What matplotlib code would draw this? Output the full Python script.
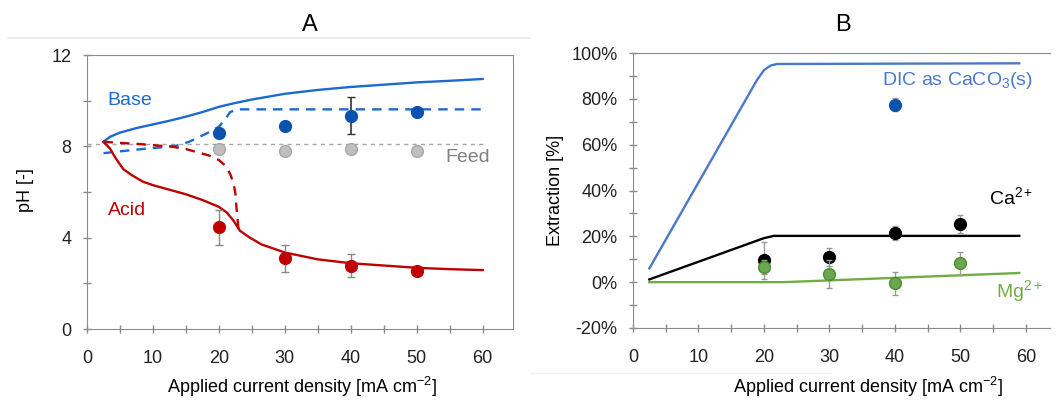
import matplotlib
matplotlib.use("Agg")
import matplotlib.pyplot as plt
from matplotlib.lines import Line2D
from matplotlib.ticker import MultipleLocator, FuncFormatter

plt.rcParams.update({
    "font.family": ["Liberation Sans", "DejaVu Sans"],
    "font.size": 13,
    "mathtext.fontset": "custom",
    "mathtext.rm": "Liberation Sans",
    "mathtext.it": "Liberation Sans",
    "mathtext.bf": "Liberation Sans",
    "axes.edgecolor": "#8c8c8c",
    "xtick.color": "#8c8c8c",
    "ytick.color": "#8c8c8c",
    "xtick.labelcolor": "#222222",
    "ytick.labelcolor": "#222222",
})

# ---- panel A: pH vs applied current density ---------------------------------
BASE_X = [2.5, 3.5, 5, 7.5, 10, 12.5, 15, 17.5, 20, 22.5, 25, 30, 35, 40, 45, 50, 55, 60]
BASE_Y = [8.2, 8.42, 8.6, 8.8, 8.96, 9.12, 9.3, 9.5, 9.73, 9.9, 10.05, 10.3, 10.47, 10.6, 10.7, 10.8, 10.87, 10.95]
BASE_D_X = [2.5, 5, 8, 11, 13.6, 15.5, 17.1, 18.6, 20, 21, 21.7, 22.8, 60]
BASE_D_Y = [7.7, 7.78, 7.87, 7.95, 8.03, 8.2, 8.42, 8.63, 8.86, 9.2, 9.5, 9.62, 9.62]
ACID_X = [2.5, 3.5, 4.3, 5.5, 7, 8.5, 10, 12.5, 15, 17.5, 20, 21.2, 22.2, 23.2, 24.7, 26.5, 30, 35, 40, 45, 50, 55, 60]
ACID_Y = [8.2, 7.9, 7.5, 7.0, 6.7, 6.45, 6.3, 6.1, 5.9, 5.65, 5.35, 5.1, 4.75, 4.3, 4.0, 3.7, 3.35, 3.05, 2.88, 2.78, 2.68, 2.62, 2.58]
ACID_D_X = [2.5, 5, 8, 10, 13, 15, 17, 18.5, 20, 21, 21.7, 22.2, 22.5, 22.7, 23.0]
ACID_D_Y = [8.2, 8.15, 8.1, 8.05, 7.98, 7.88, 7.72, 7.6, 7.4, 7.15, 6.8, 6.4, 5.95, 5.2, 4.3]
FEED_LEVEL = 8.1

PTS_X = [20, 30, 40, 50]
BASE_PTS = [8.6, 8.9, 9.35, 9.5]
BASE_ERR = [0.0, 0.0, 0.8, 0.0]
ACID_PTS = [4.45, 3.1, 2.78, 2.56]
ACID_ERR = [0.75, 0.6, 0.5, 0.0]
FEED_PTS = [7.9, 7.8, 7.9, 7.8]

# ---- panel B: extraction ----------------------------------------------------
DIC_X = [2.5, 19, 20, 21, 22, 59]
DIC_Y = [6, 88.5, 92.5, 94.5, 95.2, 95.5]
CA_X = [2.5, 20, 21.5, 59]
CA_Y = [1.2, 19.2, 20.2, 20.2]
MG_X = [2.5, 23, 59]
MG_Y = [0, 0, 4]

DIC_PT_X = [40]
DIC_PT = [77.5]
DIC_PT_ERR = [3]
CA_PTS = [9.5, 11, 21.5, 25.5]
CA_ERR = [8, 4, 3, 4]
MG_PTS = [6.5, 3.5, -0.5, 8.3]
MG_ERR = [3, 6, 5, 5]

BLUE_L = "#1a6ad0"
BLUE_P = "#0b52ac"
RED = "#c00000"
GREY_P = "#bfbfbf"
B_BLUE = "#4a78cc"
GREEN_L = "#70ad47"
GREEN_P = "#6aa84f"
MS = 8.5
LW = 1.7

W, H = 1061, 401
fig = plt.figure(figsize=(W / 100, H / 100), dpi=100)

def px(x0, y0, x1, y1):
    # pixel box -> figure fraction rect
    return [x0 / W, 1 - y1 / H, (x1 - x0) / W, (y1 - y0) / H]

# ============================ A ==============================================
axA = fig.add_axes(px(87, 55, 513, 329))
axA.plot([0, 60], [FEED_LEVEL, FEED_LEVEL], ls=(0, (3, 3)), color="#a6a6a6", lw=1)
axA.plot(BASE_X, BASE_Y, color=BLUE_L, lw=LW)
axA.plot(BASE_D_X, BASE_D_Y, color=BLUE_L, lw=LW, ls=(0, (4, 3)))
axA.plot(ACID_X, ACID_Y, color=RED, lw=LW)
axA.plot(ACID_D_X, ACID_D_Y, color=RED, lw=LW, ls=(0, (4, 3)))
axA.errorbar(PTS_X, BASE_PTS, yerr=BASE_ERR, fmt="o", ms=MS, color=BLUE_P,
             ecolor="#333333", elinewidth=1.2, capsize=3, zorder=5)
axA.errorbar(PTS_X, ACID_PTS, yerr=ACID_ERR, fmt="o", ms=MS, color=RED,
             ecolor="#888888", elinewidth=1, capsize=3, zorder=5)
axA.plot(PTS_X, FEED_PTS, "o", ms=MS, color=GREY_P, mec="#a8a8a8", zorder=5)
axA.text(6.5, 10.0, "Base", color=BLUE_L, fontsize=14, ha="center", va="center")
axA.text(6.0, 5.2, "Acid", color=RED, fontsize=14, ha="center", va="center")
axA.text(57.7, 7.5, "Feed", color="#7f7f7f", fontsize=14, ha="center", va="center")

axA.set_xticks(range(0, 61, 10))
axA.xaxis.set_minor_locator(MultipleLocator(5))
axA.set_yticks([0, 4, 8, 12])
axA.yaxis.set_minor_locator(MultipleLocator(2))
axA.tick_params(which="both", direction="inout", length=6, width=1, pad=8)
axA.tick_params(axis="x", which="major", pad=12)
axA.set_xlim(0, 64.6); axA.set_ylim(0, 12)

# ============================ B ==============================================
axB = fig.add_axes(px(633, 53, 1050, 328))
axB.plot(DIC_X, DIC_Y, color=B_BLUE, lw=LW)
axB.plot(CA_X, CA_Y, color="black", lw=LW)
axB.plot(MG_X, MG_Y, color=GREEN_L, lw=LW)
axB.errorbar(DIC_PT_X, DIC_PT, yerr=DIC_PT_ERR, fmt="o", ms=MS, color=BLUE_P,
             ecolor="#999999", elinewidth=1, capsize=2, zorder=5)
axB.errorbar(PTS_X, CA_PTS, yerr=CA_ERR, fmt="o", ms=MS, color="black",
             ecolor="#999999", elinewidth=1, capsize=2, zorder=5)
axB.errorbar(PTS_X, MG_PTS, yerr=MG_ERR, fmt="o", ms=MS, color=GREEN_P, mec="#4f8a33",
             ecolor="#999999", elinewidth=1, capsize=2, zorder=6)
axB.text(49.5, 88, "DIC as CaCO$_3$(s)", color=B_BLUE, fontsize=14, ha="center", va="center")
axB.text(57.7, 37, "Ca$^{2+}$", color="black", fontsize=14, ha="center", va="center")
axB.text(59.0, -4, "Mg$^{2+}$", color=GREEN_L, fontsize=14, ha="center", va="center")

axB.set_xticks(range(0, 61, 10))
axB.xaxis.set_minor_locator(MultipleLocator(5))
axB.set_yticks(range(-20, 101, 20))
axB.yaxis.set_minor_locator(MultipleLocator(10))
axB.yaxis.set_major_formatter(FuncFormatter(lambda v, _: f"{v:.0f}%"))
axB.tick_params(which="both", direction="inout", length=6, width=1, pad=8)
axB.tick_params(axis="x", which="major", pad=12)
axB.spines["right"].set_visible(False)
axB.set_xlim(0, 63.7); axB.set_ylim(-20, 100)

# ---- titles, axis labels, separators ----------------------------------------
fig.text(310 / W, 1 - 25 / H, "A", fontsize=17, ha="center", va="center")
fig.text(843 / W, 1 - 25 / H, "B", fontsize=17, ha="center", va="center")
fig.text(25 / W, 1 - 190 / H, "pH [-]", rotation=90, fontsize=13, ha="center", va="center")
fig.text(555 / W, 1 - 190 / H, "Extraction [%]", rotation=90, fontsize=13, ha="center", va="center")
fig.text(302 / W, 1 - 387 / H, "Applied current density [mA cm$^{-2}$]", fontsize=13,
         ha="center", va="center")
fig.text(868 / W, 1 - 387 / H, "Applied current density [mA cm$^{-2}$]", fontsize=13,
         ha="center", va="center")
fig.add_artist(Line2D([8 / W, 530 / W], [1 - 38 / H, 1 - 38 / H], color="#e6e6e6", lw=1.2))
fig.add_artist(Line2D([530 / W, 830 / W], [1 - 373 / H, 1 - 373 / H], color="#f0f0f0", lw=1))

fig.savefig("out.png", dpi=100)
